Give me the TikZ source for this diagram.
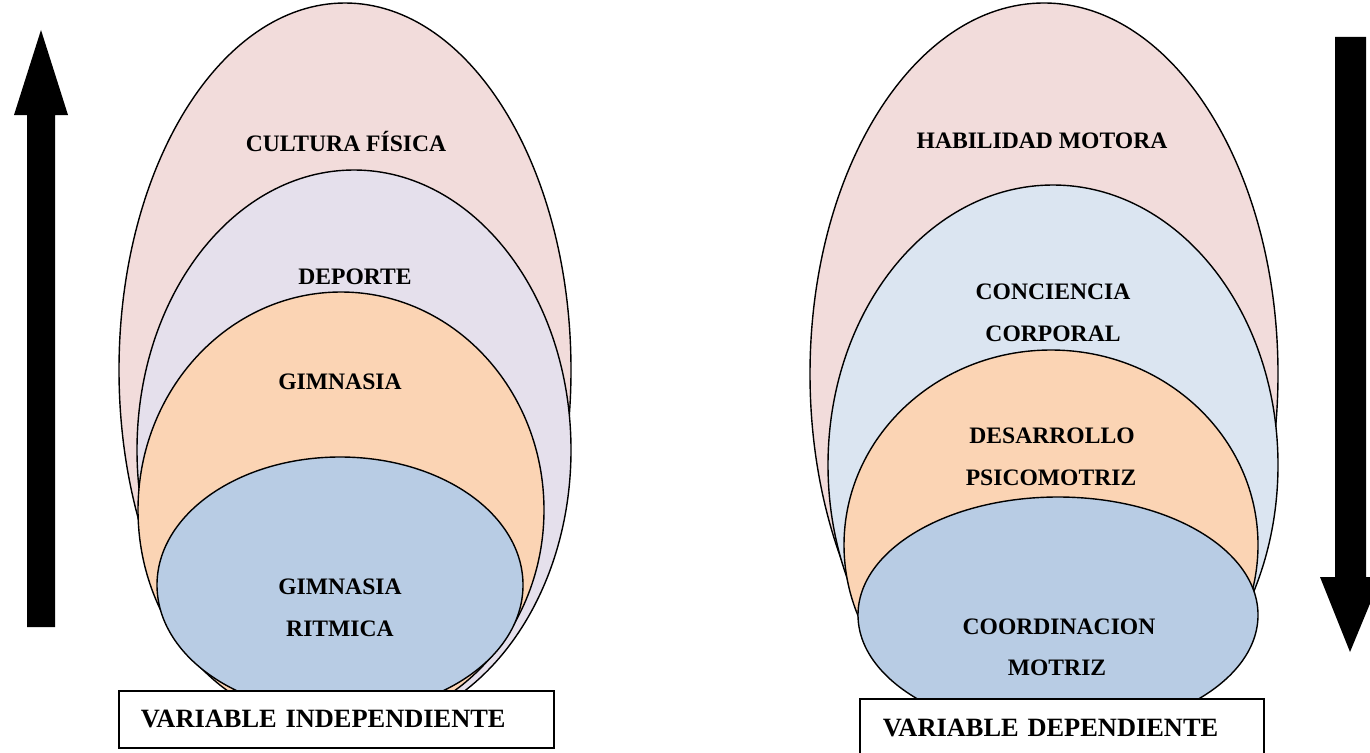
\documentclass[tikz,border=0pt]{standalone}
\usepackage{fontspec}
\setmainfont{Liberation Serif}
\usetikzlibrary{shapes.geometric}
\definecolor{rosa}{HTML}{F2DCDB}
\definecolor{lila}{HTML}{E5E0EC}
\definecolor{naranja}{HTML}{FBD4B4}
\definecolor{azul}{HTML}{B8CCE4}
\definecolor{celeste}{HTML}{DBE5F1}
\begin{document}
\begin{tikzpicture}[x=1pt,y=-1pt,
  oval/.style={ellipse, draw=black, line width=1.4pt, inner sep=0pt},
  lbl/.style={font=\fontsize{23.6}{28}\selectfont\bfseries, anchor=base, inner sep=0pt},
  varbox/.style={draw=black, line width=1.6pt, fill=white, align=left,
    font=\fontsize{26.4}{32}\selectfont\bfseries, anchor=north west}]
\useasboundingbox (0,0) rectangle (1370,752);

% ---- independent variable: nested ovals ----
\node[oval, fill=rosa,    minimum width=452pt, minimum height=734pt] (cultura)  at (345,370) {};
\node[oval, fill=lila,    minimum width=434pt, minimum height=560pt] (deporte)  at (354,450) {};
\node[oval, fill=naranja, minimum width=406pt, minimum height=436pt] (gimnasia) at (341,510) {};
\node[oval, fill=azul,    minimum width=366pt, minimum height=256pt] (ritmica)  at (340,585) {};

\node[lbl] (tCultura)  at (346,151) {CULTURA FÍSICA};
\node[lbl] (tDeporte)  at (355,284) {DEPORTE};
\node[lbl] (tGimnasia) at (340,389) {GIMNASIA};
\node[lbl] (tRitA)     at (340,594) {GIMNASIA};
\node[lbl] (tRitB)     at (340,636) {RITMICA};

\node[varbox, minimum width=435pt, minimum height=57pt, inner xsep=22pt,
      text width=391pt] (vi) at (118,690) {VARIABLE INDEPENDIENTE};

% ---- dependent variable: nested ovals ----
\node[oval, fill=rosa,    minimum width=468pt, minimum height=742pt] (habilidad)  at (1044,374) {};
\node[oval, fill=celeste, minimum width=450pt, minimum height=560pt] (conciencia) at (1053,465) {};
\node[oval, fill=naranja, minimum width=414pt, minimum height=390pt] (desarrollo) at (1051,545) {};
\node[oval, fill=azul,    minimum width=400pt, minimum height=236pt] (coordina)   at (1058,615) {};

\node[lbl] (tHabilidad) at (1042,148) {HABILIDAD MOTORA};
\node[lbl] (tConcA)     at (1053,299) {CONCIENCIA};
\node[lbl] (tConcB)     at (1053,341) {CORPORAL};
\node[lbl] (tDesA)      at (1052,443) {DESARROLLO};
\node[lbl] (tDesB)      at (1051,485) {PSICOMOTRIZ};
\node[lbl] (tCoordA)    at (1059,634) {COORDINACION};
\node[lbl] (tCoordB)    at (1057,675) {MOTRIZ};

\node[varbox, minimum width=404pt, minimum height=58pt, inner xsep=23pt,
      text width=358pt] (vd) at (859,698) {VARIABLE DEPENDIENTE};

% ---- block arrows ----
\fill[black] (27,627) -- (27,115) -- (14,115) -- (41,30) -- (68,115)
  -- (55,115) -- (55,627) -- cycle;
\fill[black] (1335,37) -- (1366,37) -- (1366,577) -- (1381,577) -- (1350,652)
  -- (1320,577) -- (1335,577) -- cycle;
\end{tikzpicture}
\end{document}
